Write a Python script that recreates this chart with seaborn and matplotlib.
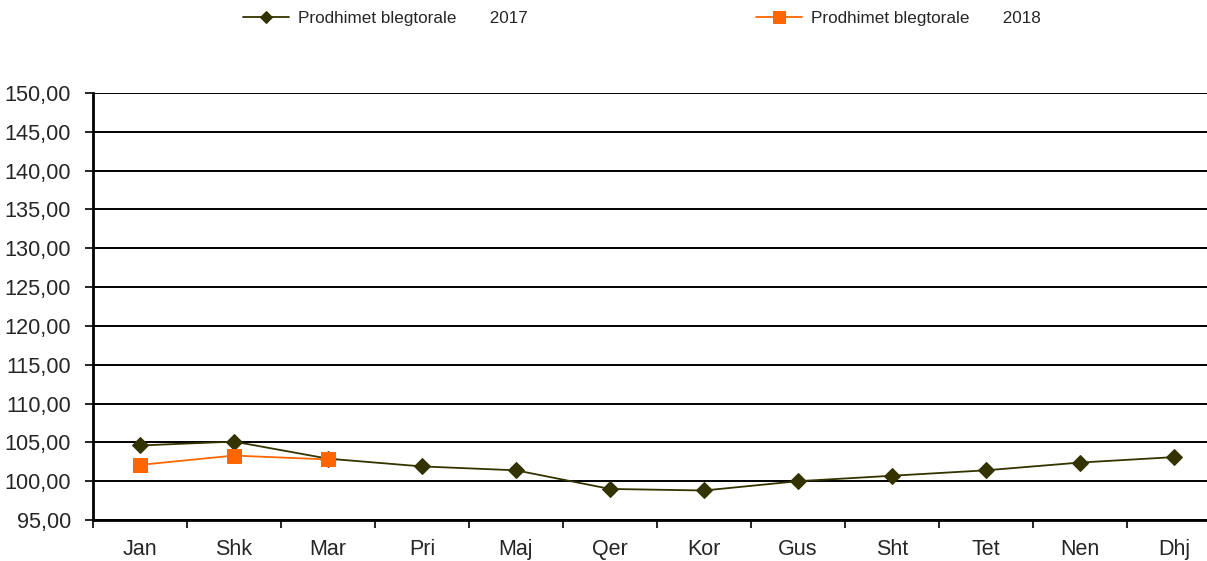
import numpy as np
import pandas as pd
import seaborn as sns
import matplotlib
matplotlib.use("Agg")
import matplotlib.pyplot as plt
from matplotlib.ticker import FixedLocator, FuncFormatter

# data
muajt = ["Jan", "Shk", "Mar", "Pri", "Maj", "Qer", "Kor", "Gus", "Sht", "Tet", "Nen", "Dhj"]
vlera_2017 = [104.6, 105.1, 102.9, 101.9, 101.4, 99.0, 98.8, 100.0, 100.7, 101.4, 102.4, 103.1]
vlera_2018 = [102.1, 103.3, 102.8]
lbl_2017 = "Prodhimet blegtorale       2017"
lbl_2018 = "Prodhimet blegtorale       2018"

sns.set_style("white")
plt.rcParams['font.family'] = ['Liberation Sans', 'DejaVu Sans']

df17 = pd.DataFrame({"pos": np.arange(len(vlera_2017)), "v": vlera_2017})
df18 = pd.DataFrame({"pos": np.arange(len(vlera_2018)), "v": vlera_2018})

fig = plt.figure(figsize=(12.07, 5.61), dpi=100)
ax = fig.add_axes([93/1207, 41/561, 1128/1207, 427/561])

sns.lineplot(data=df17, x="pos", y="v", ax=ax, color="#333300", marker="D",
             markersize=7.8, markeredgecolor="#333300", linewidth=1.3,
             label=lbl_2017, zorder=3)
sns.lineplot(data=df18, x="pos", y="v", ax=ax, color="#FF6600", marker="s",
             markersize=10.2, markeredgecolor="#FF6600", linewidth=1.3,
             label=lbl_2018, zorder=4)

ax.set_xlim(-0.5, 11.5)
ax.set_ylim(95, 150)
ax.set_yticks(np.arange(95, 151, 5))
ax.yaxis.set_major_formatter(FuncFormatter(lambda v, p: f"{v:.2f}".replace(".", ",")))
ax.grid(axis="y", color="black", linewidth=1.4)
ax.set_axisbelow(True)

ax.set_xticks(np.arange(12))
ax.set_xticklabels(muajt)
ax.xaxis.set_minor_locator(FixedLocator(np.arange(-0.5, 12, 1)))
ax.tick_params(axis="x", which="major", length=0, labelsize=15.5, pad=14)
ax.tick_params(axis="x", which="minor", length=6, width=1.2, color="black", direction="out")
ax.tick_params(axis="y", length=6, width=1.2, color="black", direction="out", labelsize=15.7, pad=10)
ax.tick_params(bottom=True, left=True)
ax.tick_params(axis="x", which="minor", bottom=True)

ax.set_xlabel("")
ax.set_ylabel("")
for s in ["top", "right"]:
    ax.spines[s].set_visible(False)
for s in ["left", "bottom"]:
    ax.spines[s].set_color("black")
    ax.spines[s].set_linewidth(2)

h, l = ax.get_legend_handles_labels()
ax.get_legend().remove()
fig.legend(h, l, loc="center left", bbox_to_anchor=(243/1207, 1 - 18/561), ncol=2,
           frameon=False, fontsize=12.3, handlelength=2.7, handletextpad=0.5,
           columnspacing=13.4, markerscale=0.8, borderpad=0, borderaxespad=0)

fig.savefig("out.png", dpi=100)
